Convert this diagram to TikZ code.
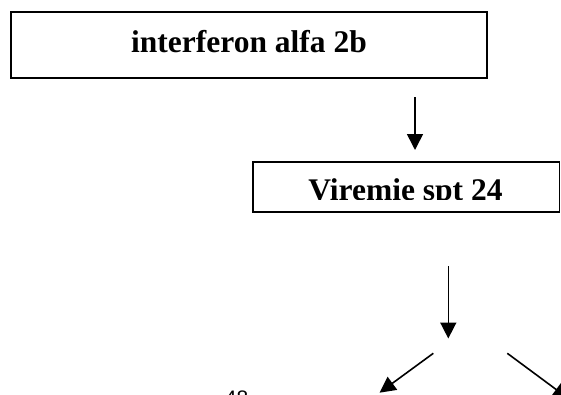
\documentclass[tikz,border=0pt]{standalone}
\usepackage{fontspec}
\setmainfont{Liberation Serif}
\newfontfamily\labelsans{Liberation Sans}
\usetikzlibrary{arrows.meta}
\begin{document}
\begin{tikzpicture}[x=1pt,y=-1pt,
  boxstyle/.style={draw,line width=1.6pt,inner sep=0pt},
  titletext/.style={inner sep=0pt,anchor=base,font=\fontsize{31.5}{36}\selectfont\bfseries},
  flowarrow/.style={line width=1.6pt,-{Triangle[length=16pt,width=16pt]}}]
\useasboundingbox (0,0) rectangle (561,394);
\clip (0,0) rectangle (561,394);
% top box
\node[boxstyle,minimum width=476.3pt,minimum height=66pt] (box1) at (249,45) {};
\node[titletext] (t1) at (249,52.7) {interferon alfa 2b};
% second box
\node[boxstyle,minimum width=306.6pt,minimum height=50pt] (box2) at (406,186.7) {};
\begin{scope}
\clip (252,150) rectangle (560,199.8);
\node[titletext] (t2) at (405.5,200.3) {Viremie spt 24};
\end{scope}
% arrows
\coordinate (a1s) at (415,97);
\coordinate (a1e) at (415,150);
\draw[flowarrow] (a1s) -- (a1e);
\coordinate (a2s) at (448.3,266);
\coordinate (a2e) at (448.3,338.5);
\draw[flowarrow] (a2s) -- (a2e);
\coordinate (a3s) at (433.3,353.3);
\coordinate (a3e) at (379.5,392.7);
\draw[flowarrow] (a3s) -- (a3e);
\coordinate (a4s) at (507.3,353.3);
\coordinate (a4e) at (569,399);
\draw[flowarrow] (a4s) -- (a4e);
% partly visible label
\node[inner sep=0pt,anchor=base,font=\labelsans\fontsize{21}{24}\selectfont] (t3) at (236.5,405) {48};
\end{tikzpicture}
\end{document}
